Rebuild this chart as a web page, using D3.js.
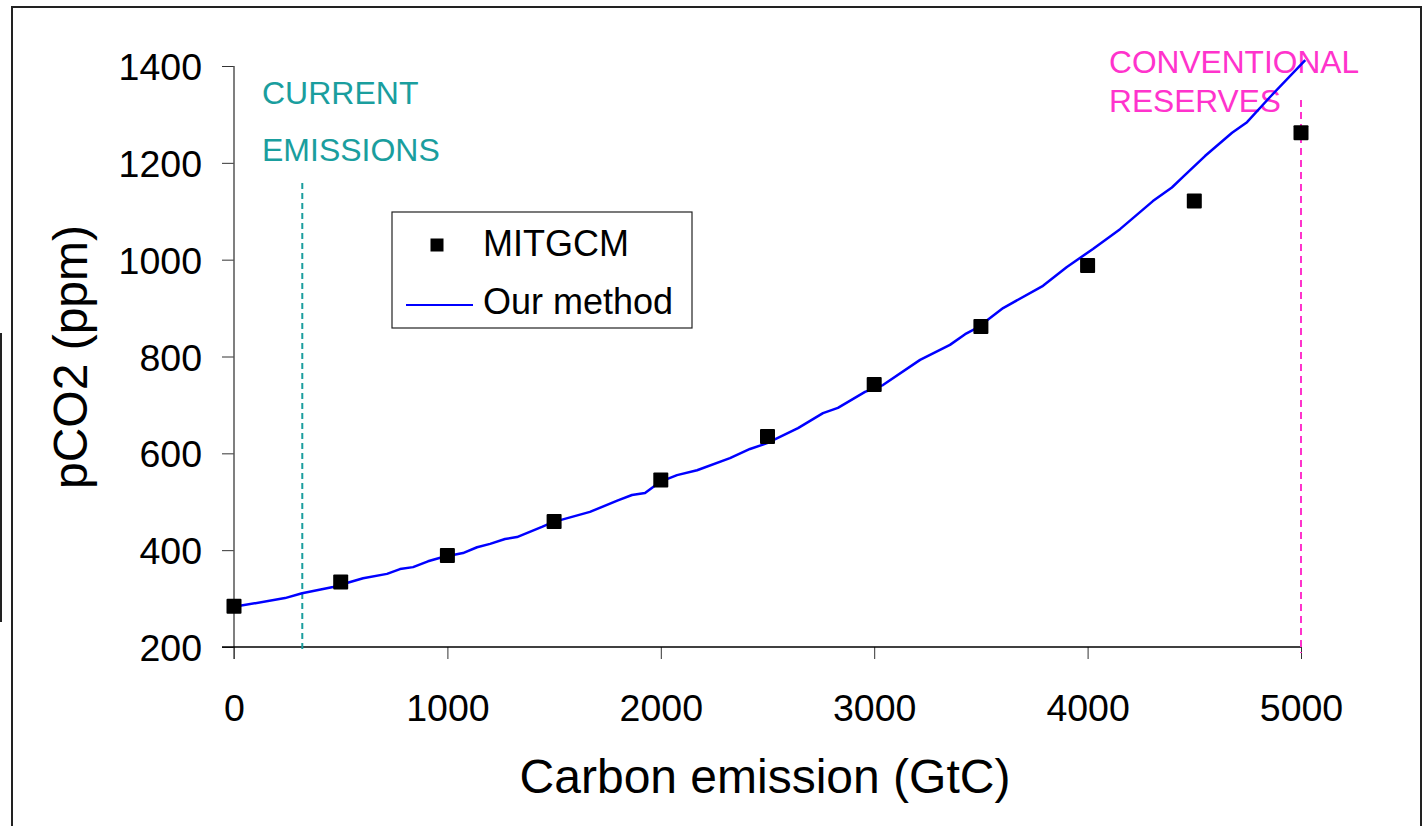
<!DOCTYPE html>
<html>
<head>
<meta charset="utf-8">
<script src="https://cdn.jsdelivr.net/npm/d3@7"></script>
<style>
  body { margin: 0; background: #fff; }
  svg text { font-family: "Liberation Sans", Arial, sans-serif; }
</style>
</head>
<body>
<div id="chart"></div>
<script>
// MITGCM model points
const mitX = [0, 500, 1000, 1500, 2000, 2500, 3000, 3500, 4000, 4500, 5000];
const mitY = [284, 334, 389, 459, 545, 635, 742, 862, 988, 1121, 1262];

// "Our method" curve
const ourX = [0, 239, 319, 464, 605, 717, 778, 839, 909, 979, 1073, 1139, 1200, 1270, 1326, 1443, 1495,
  1668, 1799, 1865, 1926, 1996, 2076, 2170, 2324, 2418, 2498, 2643, 2760, 2830, 2957, 3041, 3215,
  3355, 3426, 3482, 3604, 3791, 3903, 4025, 4152, 4306, 4395, 4447, 4550, 4677, 4747, 4855, 5020];
const ourY = [283, 301, 311, 324, 342, 351, 361, 365, 377, 386, 394, 406, 413, 423, 427, 448, 458,
  479, 503, 514, 518, 541, 555, 565, 590, 609, 621, 652, 683, 694, 727, 741, 793,
  824, 846, 859, 900, 946, 985, 1022, 1063, 1121, 1149, 1171, 1214, 1262, 1284, 1336, 1412];

const xTicks = [0, 1000, 2000, 3000, 4000, 5000];
const yTicks = [200, 400, 600, 800, 1000, 1200, 1400];

const currentEmissions = 320;
const conventionalReserves = 5000;

const width = 1424, height = 826;
const svg = d3.select("#chart").append("svg").attr("width", width).attr("height", height);

// frame
svg.append("path")
  .attr("d", "M12,826 V7 H1421 V826")
  .attr("fill", "none").attr("stroke", "#222").attr("stroke-width", 2);
svg.append("line")
  .attr("x1", 1).attr("x2", 1).attr("y1", 333).attr("y2", 622)
  .attr("stroke", "#222").attr("stroke-width", 2);

const x = d3.scaleLinear().domain([0, 5000]).range([234, 1301]);
const y = d3.scaleLinear().domain([200, 1400]).range([647, 66]);

// axes
const yAxis = svg.append("g")
  .attr("transform", `translate(${x(0)},0)`)
  .call(d3.axisLeft(y).tickValues(yTicks).tickSize(12).tickPadding(20).tickFormat(d3.format("d")));
yAxis.select(".domain").remove();
yAxis.selectAll(".tick line").attr("stroke", "#333");
yAxis.selectAll("text").attr("font-size", 37.5).attr("fill", "#000").attr("dy", "0.36em");

const xAxis = svg.append("g")
  .attr("transform", `translate(0,${y(200)})`)
  .call(d3.axisBottom(x).tickValues(xTicks).tickSize(12).tickPadding(35).tickFormat(d3.format("d")));
xAxis.select(".domain").remove();
xAxis.selectAll(".tick line").attr("stroke", "#333");
xAxis.selectAll("text").attr("font-size", 37.5).attr("fill", "#000");

svg.append("line")
  .attr("x1", x(0)).attr("x2", x(0)).attr("y1", y(1400)).attr("y2", y(200) + 12)
  .attr("stroke", "#555").attr("stroke-width", 1.5);
svg.append("line")
  .attr("x1", x(0) - 12).attr("x2", x(5000)).attr("y1", y(200)).attr("y2", y(200))
  .attr("stroke", "#000").attr("stroke-width", 1.5);

// axis titles
svg.append("text")
  .attr("x", 765).attr("y", 793)
  .attr("text-anchor", "middle").attr("font-size", 48)
  .text("Carbon emission (GtC)");
svg.append("text")
  .attr("transform", "translate(87,357) rotate(-90)")
  .attr("text-anchor", "middle").attr("font-size", 48)
  .text("pCO2 (ppm)");

// marker lines
svg.append("line")
  .attr("x1", x(currentEmissions)).attr("x2", x(currentEmissions))
  .attr("y1", 183).attr("y2", y(200) + 6)
  .attr("stroke", "#1a9e9e").attr("stroke-width", 2).attr("stroke-dasharray", "6,4");
svg.append("line")
  .attr("x1", x(conventionalReserves)).attr("x2", x(conventionalReserves))
  .attr("y1", 100).attr("y2", y(200) + 6)
  .attr("stroke", "#ff33cc").attr("stroke-width", 2).attr("stroke-dasharray", "7,5");

svg.append("text").attr("x", 262).attr("y", 104).attr("font-size", 32).attr("fill", "#1a9e9e").text("CURRENT");
svg.append("text").attr("x", 262).attr("y", 161).attr("font-size", 32).attr("fill", "#1a9e9e").text("EMISSIONS");
svg.append("text").attr("x", 1109).attr("y", 73).attr("font-size", 31.7).attr("fill", "#ff33cc").text("CONVENTIONAL");
svg.append("text").attr("x", 1109).attr("y", 112).attr("font-size", 31.7).attr("fill", "#ff33cc").text("RESERVES");

// our method line
const ourData = ourX.map((d, i) => ({ x: d, y: ourY[i] }));
svg.append("path")
  .datum(ourData)
  .attr("fill", "none")
  .attr("stroke", "#0000ff")
  .attr("stroke-width", 2.5)
  .attr("stroke-linejoin", "round")
  .attr("d", d3.line().x(d => x(d.x)).y(d => y(d.y)));

// MITGCM squares
const size = 15;
svg.selectAll(".mit")
  .data(mitX.map((d, i) => ({ x: d, y: mitY[i] })))
  .enter()
  .append("rect")
  .attr("class", "mit")
  .attr("x", d => x(d.x) - size / 2)
  .attr("y", d => y(d.y) - size / 2)
  .attr("width", size)
  .attr("height", size)
  .attr("rx", 1)
  .attr("fill", "#000");

// legend
const legend = svg.append("g");
legend.append("rect")
  .attr("x", 392).attr("y", 212).attr("width", 300).attr("height", 116)
  .attr("fill", "#fff").attr("stroke", "#222").attr("stroke-width", 1.2);
legend.append("rect")
  .attr("x", 437 - 6.5).attr("y", 245 - 6.5).attr("width", 13).attr("height", 13).attr("fill", "#000");
legend.append("text").attr("x", 483).attr("y", 256).attr("font-size", 36).text("MITGCM");
legend.append("line")
  .attr("x1", 406).attr("x2", 473).attr("y1", 305).attr("y2", 305)
  .attr("stroke", "#0000ff").attr("stroke-width", 2);
legend.append("text").attr("x", 483).attr("y", 314).attr("font-size", 36).text("Our method");
</script>
</body>
</html>
